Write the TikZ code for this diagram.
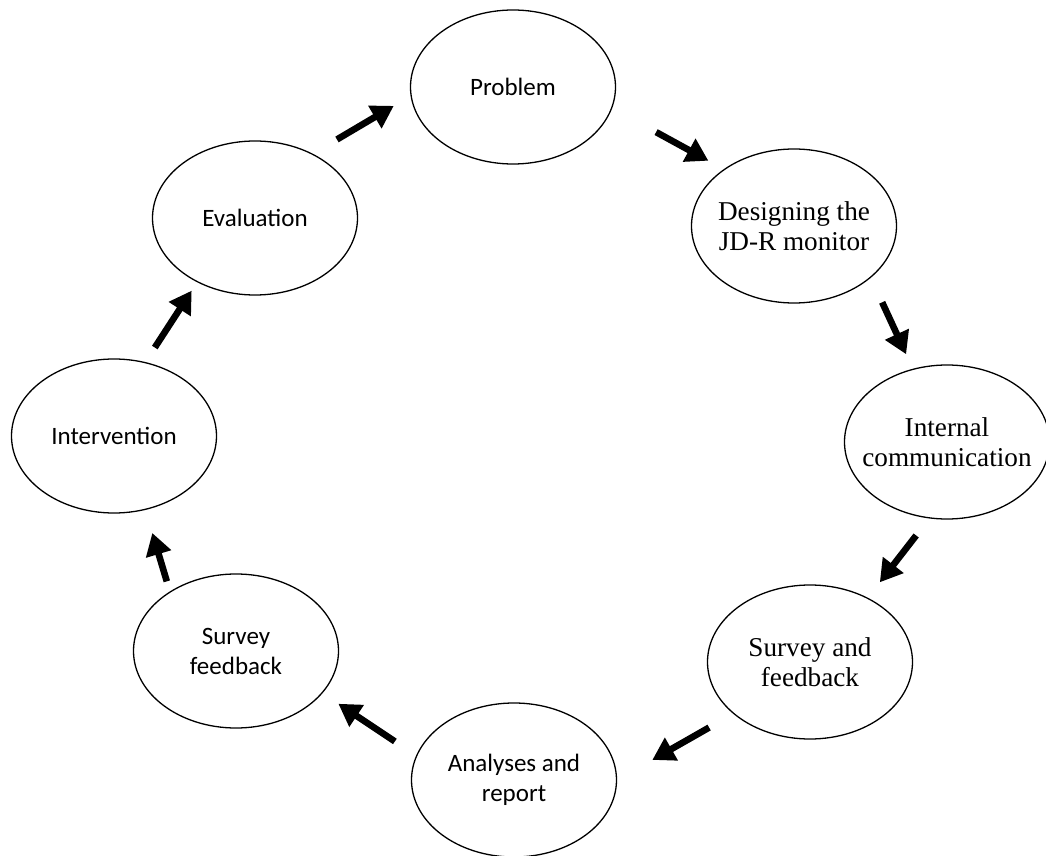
\documentclass[tikz,border=0pt]{standalone}
\usepackage{fontspec}
\usepackage{tikz}
\usetikzlibrary{shapes.geometric,arrows.meta}
\newfontfamily\calibrifont{Carlito}
\newfontfamily\timesfont{Liberation Serif}

\begin{document}
\begin{tikzpicture}[x=0.5pt,y=-0.5pt,%
% common options for the ellipses:
phase/.style = {ellipse, draw, line width=0.65pt, align=center,
            minimum width=102.5pt, minimum height=77pt,
            inner xsep=-10pt, inner ysep=0pt},
sansphase/.style = {phase, font=\calibrifont\fontsize{12.5}{15}\selectfont},
serifphase/.style = {phase, font=\timesfont\fontsize{13.6}{15}\selectfont},
% common options for the arrows:
flow/.style = {line width=3.3pt, -{Triangle[length=11pt,width=12.5pt]}}]
\useasboundingbox (0,0) rectangle (1046,856);
\node[sansphase] (P0) at (513,87) {Problem};
\node[serifphase] (P1) at (794,226) {Designing the\\JD-R monitor};
\node[serifphase] (P2) at (947,442) {Internal\\communication};
\node[serifphase] (P3) at (810,662) {Survey and\\feedback};
\node[sansphase] (P4) at (514,780) {Analyses and\\report};
\node[sansphase] (P5) at (236,651) {Survey\\feedback};
\node[sansphase] (P6) at (114,436) {Intervention};
\node[sansphase] (P7) at (255,218) {Evaluation};
\draw[flow, shorten <=25pt, shorten >=8.75pt] (P0.-12) to (P1.141);
\draw[flow, shorten <=13.5pt, shorten >=8pt] (P1.-34) to (P2.115);
\draw[flow, shorten <=10.75pt, shorten >=9.75pt] (P2.257) to (P3.48);
\draw[flow, shorten <=13.85pt, shorten >=20.25pt] (P3.214) to (P4.0);
\draw[flow, shorten <=12.75pt, shorten >=9.5pt] (P4.166) to (P5.-26);
\draw[flow, shorten <=5.25pt, shorten >=12pt] (P5.138) to (P6.-67);
\draw[flow, shorten <=8.65pt, shorten >=5pt] (P6.67) to (P7.-132);
\draw[flow, shorten <=14pt, shorten >=9.75pt] (P7.48) to (P0.185);
\end{tikzpicture}
\end{document}
